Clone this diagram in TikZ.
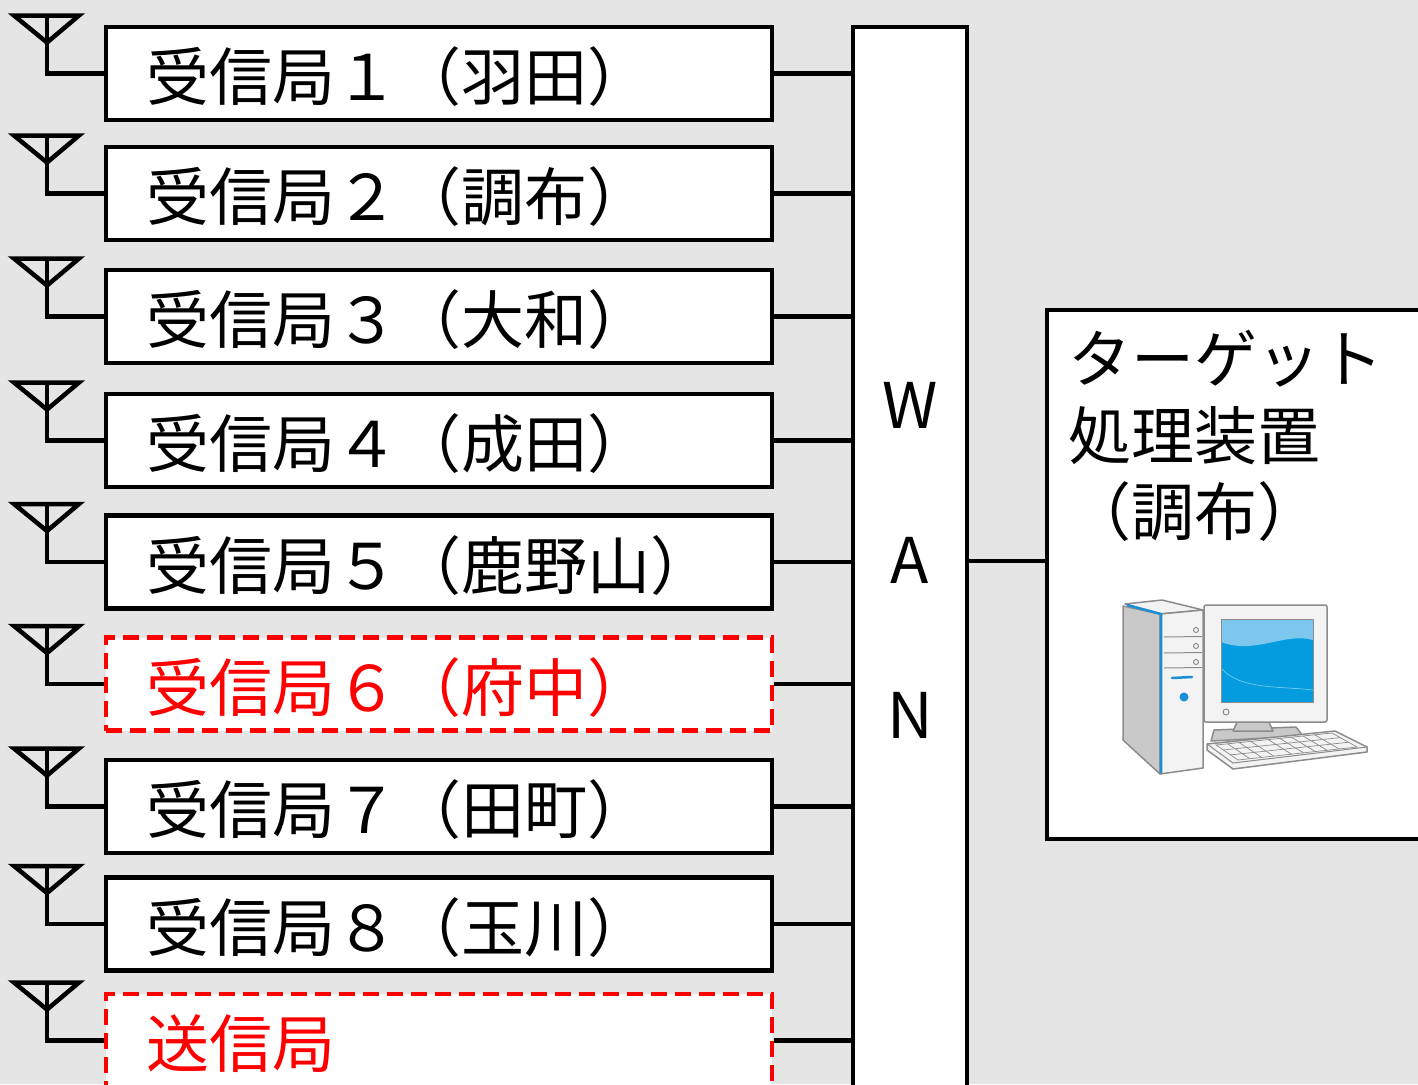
\documentclass[tikz,border=0pt]{standalone}
\usepackage{fontspec}
\setmainfont{Noto Sans CJK JP}
\usetikzlibrary{calc}
\definecolor{bg}{HTML}{E5E5E5}
\definecolor{pcline}{HTML}{8C8C8C}
\definecolor{pcblue}{HTML}{1B8FD6}
\definecolor{pcside}{HTML}{C9C9C9}
\definecolor{pcface}{HTML}{F3F3F3}
\definecolor{scrlight}{HTML}{7DC7EF}
\definecolor{scrdark}{HTML}{049CDE}
\begin{document}
\begin{tikzpicture}[x=1pt,y=-1pt,
  frame/.style={draw=black,line width=4.5pt,fill=white,rectangle,inner sep=0pt},
  station/.style={frame,minimum width=666pt,minimum height=93pt},
  newstation/.style={station,draw=red,dash pattern=on 16pt off 8pt},
  wire/.style={line width=4.5pt,line join=miter},
  big/.style={inner sep=0pt,font=\fontsize{63}{70}\selectfont},
  lbl/.style={big,anchor=base west},
  pc/.style={draw=pcline,line width=1.5pt,line join=round}]

\useasboundingbox (0,0) rectangle (1418,1084);
\clip (0,0) rectangle (1418,1084);
\fill[bg] (0,0) rectangle (1418,1084);

% WAN backbone and processing unit
\node[frame,minimum width=114pt,minimum height=1083pt] (wan) at (910,568.5) {};
\node[big,anchor=base] (wW) at (910,428) {W};
\node[big,anchor=base] (wA) at (910,583) {A};
\node[big,anchor=base] (wN) at (910,738) {N};

\node[frame,minimum width=393pt,minimum height=529pt] (tgt) at (1243.5,574.5) {};
\node[lbl] (tg1) at (1068,382) {ターゲット};
\node[lbl] (tg2) at (1068,459) {処理装置};
\node[lbl] (tg3) at (1068,535) {（調布）};
\coordinate (wanout) at (967,561);
\draw[wire] (wanout -| wan.east) -- (wanout -| tgt.west);

% stations with antennas
\foreach \c/\t/\s/\col [count=\i] in {
   73.5/受信局１（羽田）/station/black,
  193.5/受信局２（調布）/station/black,
  316.5/受信局３（大和）/station/black,
  440.5/受信局４（成田）/station/black,
  562/受信局５（鹿野山）/station/black,
  684/受信局６（府中）/newstation/red,
  806.5/受信局７（田町）/station/black,
  924/受信局８（玉川）/station/black,
  1040.5/送信局/newstation/red}{
  \node[\s] (s\i) at (439,\c) {};
  \node[lbl,text=\col] (t\i) at (146,\c+27) {\t};
  \draw[wire] (14,\c-58) -- (79,\c-58) -- (47,\c-31) -- cycle;
  \coordinate (m\i) at (47,\c);
  \draw[wire] (47,\c-58) -- (m\i) -- (s\i.west);
  \draw[wire] (s\i.east) -- (s\i.east -| wan.west);
}

% computer icon
\begin{scope}
  % tower
  \filldraw[pc,fill=pcside] (1123,606) -- (1160,614) -- (1160,774) -- (1123,740) -- cycle;
  \filldraw[pc,fill=pcface] (1125,604) -- (1162,600) -- (1203,610) -- (1160,614) -- cycle;
  \filldraw[pc,fill=pcface] (1160,614) -- (1203,610) -- (1203,768) -- (1160,774) -- cycle;
  \draw[pcblue,line width=2.5pt] (1127,605) -- (1161,614) -- (1161,773);
  \foreach \yy in {637,653,668} \draw[pc,line width=1pt] (1164,\yy) -- (1202,\yy-0.5);
  \foreach \yy in {630,646,662} \draw[pc,line width=1pt] (1196,\yy) circle (2.5);
  \draw[pcblue,line width=2.5pt,line cap=round] (1172,678) -- (1192,677);
  \fill[pcblue] (1184,697) circle (4.5);
  % monitor stand
  \filldraw[pc,fill=pcside] (1214,730) -- (1296,727) -- (1303,736) -- (1211,741) -- cycle;
  \filldraw[pc,fill=pcside] (1238,720) -- (1268,720) -- (1273,731) -- (1233,731) -- cycle;
  % monitor
  \filldraw[pc,fill=pcface,rounded corners=2pt] (1204,605) rectangle (1327,722);
  \fill[scrdark] (1221,619) rectangle (1313,702);
  \fill[scrlight] (1221,619) -- (1313,619) -- (1313,640)
     .. controls (1285,632) and (1255,655) .. (1221,642) -- cycle;
  \draw[white,opacity=0.5,line width=0.6pt] (1221,668) .. controls (1240,690) and (1280,686) .. (1313,690);
  \draw[pc,line width=1pt] (1221,619) rectangle (1313,702);
  \draw[pc,line width=1pt] (1226,712) circle (3);
  % keyboard
  \filldraw[pc,fill=pcface] (1207,744) -- (1335,731) -- (1367,747) -- (1367,752) -- (1233,769) -- (1207,750) -- cycle;
  \draw[pc,line width=1pt] (1207,744) -- (1233,763) -- (1367,747);
  \coordinate (k1) at (1216,745);
  \coordinate (k2) at (1332,733);
  \coordinate (k3) at (1357,747);
  \coordinate (k4) at (1238,760);
  \foreach \tt in {0.33,0.66}
    \draw[pcline,line width=0.7pt] ($(k1)!\tt!(k4)$) -- ($(k2)!\tt!(k3)$);
  \foreach \tt in {0.1,0.2,0.3,0.45,0.55,0.65,0.75,0.85}
    \draw[pcline,line width=0.7pt] ($(k1)!\tt!(k2)$) -- ($(k4)!\tt!(k3)$);
  \draw[pcline,line width=0.7pt] (k1) -- (k2) -- (k3) -- (k4) -- cycle;
\end{scope}
\end{tikzpicture}
\end{document}
